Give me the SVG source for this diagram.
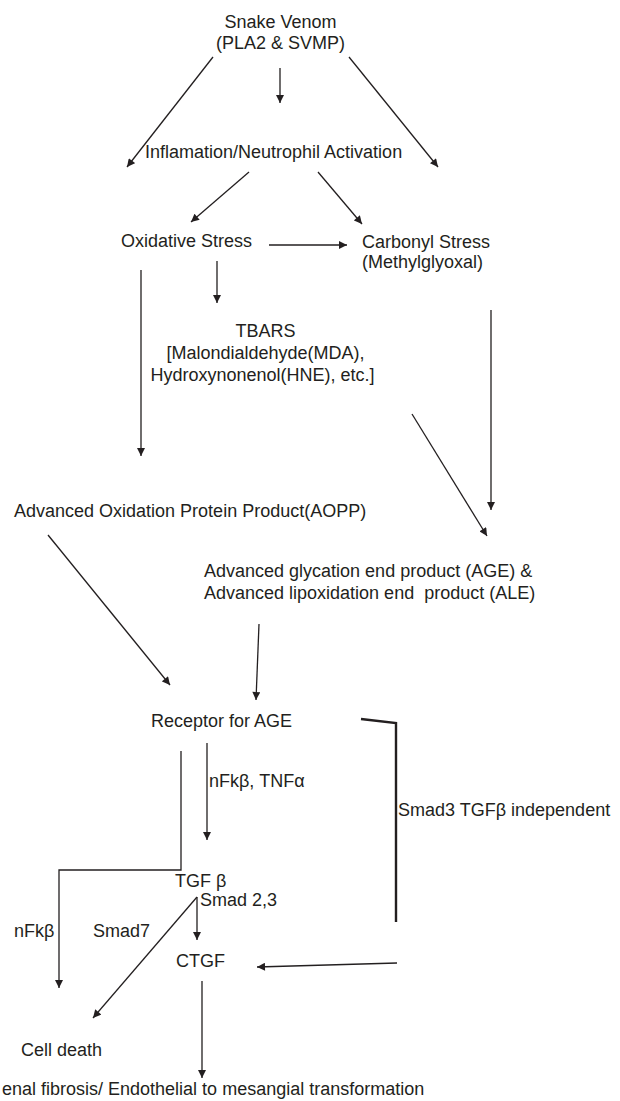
<svg xmlns="http://www.w3.org/2000/svg" width="620" height="1101" viewBox="0 0 620 1101">
<style>
text{font-family:"Liberation Sans",Arial,sans-serif;font-size:18px;fill:#231f20}
.c{text-anchor:middle}
.ln{stroke:#231f20;stroke-width:1.3;fill:none}
.ar{marker-end:url(#ah)}
.thick{stroke-width:2.4}
</style>
<defs>
<marker id="ah" viewBox="0 0 10 10" refX="10" refY="5" markerWidth="9" markerHeight="8" markerUnits="userSpaceOnUse" orient="auto">
<path d="M0,0 L10,5 L0,10 z" fill="#231f20"/>
</marker>
</defs>
<rect width="620" height="1101" fill="#ffffff"/>
<g id="venom"><text class="c" x="280.5" y="28">Snake Venom</text><text class="c" x="280.5" y="49">(PLA2 &amp; SVMP)</text></g>
<g id="inflammation"><text x="145" y="158">Inflamation/Neutrophil Activation</text></g>
<g id="oxidative"><text x="121" y="247">Oxidative Stress</text></g>
<g id="carbonyl"><text x="362" y="248">Carbonyl Stress</text><text x="362" y="268">(Methylglyoxal)</text></g>
<g id="tbars"><text class="c" x="265.5" y="337">TBARS</text><text class="c" x="265.5" y="359">[Malondialdehyde(MDA),</text><text class="c" x="262.5" y="381">Hydroxynonenol(HNE), etc.]</text></g>
<g id="aopp"><text x="14" y="517">Advanced Oxidation Protein Product(AOPP)</text></g>
<g id="age"><text x="204" y="577">Advanced glycation end product (AGE) &amp;</text><text x="204" y="599" xml:space="preserve">Advanced lipoxidation end  product (ALE)</text></g>
<g id="rage"><text x="151" y="727">Receptor for AGE</text></g>
<g id="tgfb"><text x="175" y="887">TGF β</text></g>
<g id="ctgf"><text x="176" y="967">CTGF</text></g>
<g id="celldeath"><text x="21" y="1056">Cell death</text></g>
<g id="fibrosis"><text x="2" y="1095">enal fibrosis/ Endothelial to mesangial transformation</text></g>
<g id="labels">
<text x="209" y="787">nFkβ, TNFα</text>
<text x="398" y="816">Smad3 TGFβ independent</text>
<text x="200" y="906">Smad 2,3</text>
<text x="14" y="937">nFkβ</text>
<text x="93" y="937">Smad7</text>
</g>
<g id="connectors">
<line class="ln ar" x1="280" y1="68" x2="280" y2="103"/>
<line class="ln ar" x1="213" y1="57" x2="127" y2="167"/>
<line class="ln ar" x1="349" y1="57" x2="438" y2="167"/>
<line class="ln ar" x1="249" y1="172" x2="191" y2="222"/>
<line class="ln ar" x1="318" y1="172" x2="362" y2="224"/>
<line class="ln ar" x1="269" y1="245" x2="347" y2="245"/>
<line class="ln ar" x1="217" y1="261" x2="217" y2="303"/>
<line class="ln ar" x1="141" y1="270" x2="141" y2="456"/>
<line class="ln ar" x1="491" y1="310" x2="491" y2="510"/>
<line class="ln ar" x1="412" y1="414" x2="487" y2="536"/>
<line class="ln ar" x1="48" y1="535" x2="170" y2="685"/>
<line class="ln ar" x1="259" y1="624" x2="256" y2="700"/>
<line class="ln ar" x1="207" y1="743" x2="207" y2="840"/>
<polyline class="ln ar" points="181,751 181,870 59,870 59,988"/>
<polyline class="ln thick" points="361,719 396,723 396,922"/>
<line class="ln ar" x1="397" y1="963" x2="257" y2="967"/>
<line class="ln ar" x1="197" y1="897" x2="197" y2="940"/>
<line class="ln ar" x1="197" y1="897" x2="93" y2="1018"/>
<line class="ln ar" x1="202" y1="981" x2="202" y2="1078"/>
</g>
</svg>
